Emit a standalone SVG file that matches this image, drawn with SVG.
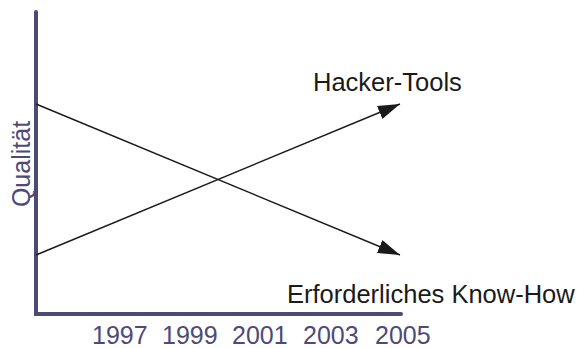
<svg xmlns="http://www.w3.org/2000/svg" width="577" height="348" viewBox="0 0 577 348">
<style>
.axis{stroke:#4e4a78;stroke-width:4;fill:none;stroke-linecap:round;stroke-linejoin:miter}
.conn{stroke:#1a1a1a;stroke-width:1.4;fill:none}
.lbl{font-family:"Liberation Sans",Arial,sans-serif;font-size:25.5px;fill:#1a1a1a}
.yr{font-family:"Liberation Sans",Arial,sans-serif;font-size:25px;fill:#4e4a78}
</style>
<defs>
<marker id="ah" markerUnits="userSpaceOnUse" markerWidth="24" markerHeight="16" refX="22" refY="7" orient="auto">
<path d="M0,0 L22,7 L0,14 Z" fill="#1a1a1a"/>
</marker>
</defs>
<g id="axes">
<path class="axis" d="M36,12 L36,314 L401,314"/>
</g>
<g id="y-label">
<text class="yr" transform="translate(30,164) rotate(-90)" text-anchor="middle">Qualität</text>
</g>
<g id="x-labels">
<text class="yr" x="92" y="344">1997</text>
<text class="yr" x="162" y="344">1999</text>
<text class="yr" x="232" y="344">2001</text>
<text class="yr" x="303" y="344">2003</text>
<text class="yr" x="375" y="344">2005</text>
</g>
<g id="connectors">
<line class="conn" x1="36" y1="255" x2="400" y2="104" marker-end="url(#ah)"/>
<line class="conn" x1="36" y1="104" x2="400" y2="255" marker-end="url(#ah)"/>
</g>
<g id="hacker-tools">
<text class="lbl" x="313" y="91">Hacker-Tools</text>
</g>
<g id="know-how">
<text class="lbl" x="287" y="303">Erforderliches Know-How</text>
</g>
</svg>
